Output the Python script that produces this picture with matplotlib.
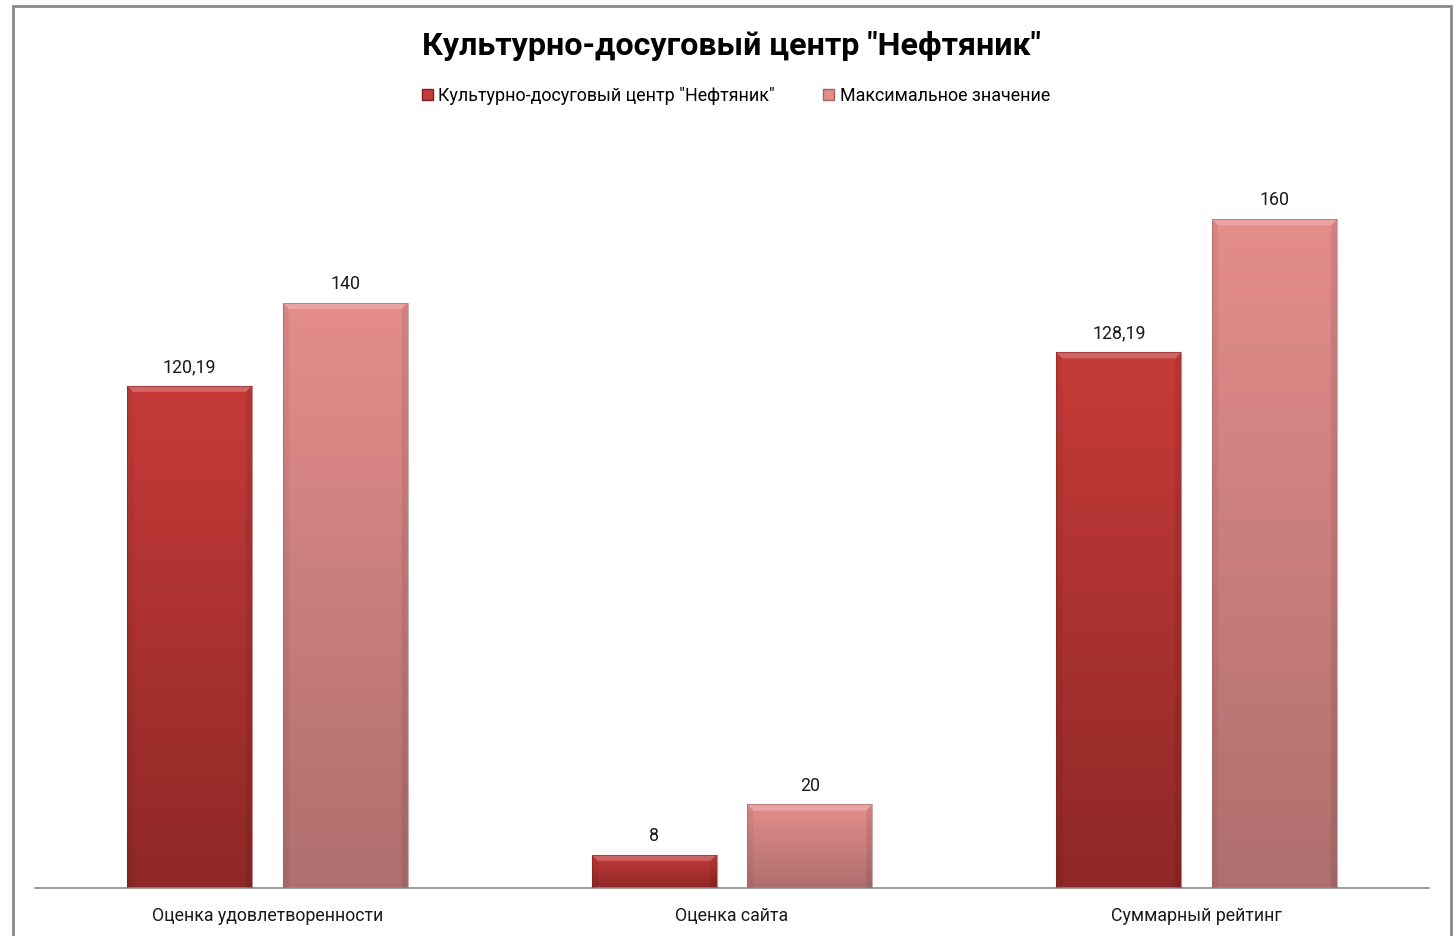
import numpy as np
import matplotlib.pyplot as plt
from matplotlib.patches import Patch, Rectangle, Polygon
from matplotlib.colors import LinearSegmentedColormap

plt.rcParams['font.family'] = ['Roboto', 'DejaVu Sans']

title = 'Культурно-досуговый центр "Нефтяник"'
categories = ['Оценка удовлетворенности', 'Оценка сайта', 'Суммарный рейтинг']
series_names = ['Культурно-досуговый центр "Нефтяник"', 'Максимальное значение']
center_vals = [120.19, 8, 128.19]
max_vals = [140, 20, 160]
value_labels = [['120,19', '8', '128,19'], ['140', '20', '160']]

# top colour, bottom colour for each series
grads = [('#c63b39', '#8e2826'), ('#e48d8b', '#ae6f6e')]
edge_cols = ['#7a2220', '#9a6463']

fig = plt.figure(figsize=(14.56, 9.36), dpi=100)
ax = fig.add_axes([35 / 1456, 48 / 936, (1429 - 35) / 1456, (888 - 135.6) / 936])

x = np.arange(len(categories))
width = 0.269
offs = [-0.1675, 0.1675]

for k, vals in enumerate([center_vals, max_vals]):
    bars = ax.bar(x + offs[k], vals, width, color='none', edgecolor='none', zorder=2)
    cmap = LinearSegmentedColormap.from_list('g%d' % k, [grads[k][1], grads[k][0]])
    for b, lab in zip(bars, value_labels[k]):
        x0, y0 = b.get_x(), b.get_y()
        w, h = b.get_width(), b.get_height()
        grad = np.linspace(0, 1, 256).reshape(-1, 1)
        im = ax.imshow(grad, cmap=cmap, origin='lower', aspect='auto',
                       extent=[x0, x0 + w, y0, y0 + h], zorder=2)
        im.set_clip_path(b)
        # bevel: lighter top strip, darker sides
        bh = min(1.5, h * 0.25)
        bw = 0.013
        ax.add_patch(Polygon([[x0, y0 + h], [x0 + w, y0 + h],
                              [x0 + w - bw, y0 + h - bh], [x0 + bw, y0 + h - bh]],
                             closed=True, facecolor='white', alpha=0.22,
                             edgecolor='none', zorder=3))
        ax.add_patch(Polygon([[x0, y0], [x0, y0 + h], [x0 + bw, y0 + h - bh], [x0 + bw, y0]],
                             closed=True, facecolor='black', alpha=0.05,
                             edgecolor='none', zorder=3))
        ax.add_patch(Polygon([[x0 + w, y0], [x0 + w, y0 + h], [x0 + w - bw, y0 + h - bh],
                              [x0 + w - bw, y0]],
                             closed=True, facecolor='black', alpha=0.08,
                             edgecolor='none', zorder=3))
        ax.add_patch(Rectangle((x0, y0), w, h, facecolor='none',
                               edgecolor=edge_cols[k], linewidth=0.8, alpha=0.5, zorder=4))
        ax.annotate(lab, (x0 + w / 2, y0 + h), xytext=(0, 7), textcoords='offset points',
                    ha='center', va='bottom', fontsize=12.8, color='#1a1a1a')

ax.set_xlim(-0.5, 2.5)
ax.set_ylim(0, 180)
ax.set_xticks(x)
ax.set_xticklabels(categories, fontsize=12.8, color='#1a1a1a')
ax.tick_params(axis='x', length=0, pad=14)
ax.set_yticks([])
for s in ['top', 'right', 'left']:
    ax.spines[s].set_visible(False)
ax.spines['bottom'].set_color('#8c8c8c')
ax.spines['bottom'].set_linewidth(1.2)

fig.text(731 / 1456, 1 - 46 / 936, title, ha='center', va='center',
         fontsize=23.2, fontweight='bold', color='black')

handles = [Patch(facecolor=grads[0][0], edgecolor=edge_cols[0]),
           Patch(facecolor=grads[1][0], edgecolor=edge_cols[1])]
fig.legend(handles, series_names, loc='center', bbox_to_anchor=(736 / 1456, 1 - 96 / 936),
           ncol=2, frameon=False, fontsize=12.9, handlelength=0.6, handleheight=0.6,
           handletextpad=0.3, columnspacing=2.7)

# outer chart border
fig.add_artist(Rectangle((13 / 1456, -0.05), (1451 - 13) / 1456, 1.05 - 6 / 936,
                         transform=fig.transFigure, facecolor='none',
                         edgecolor='#8a8a8a', linewidth=2))

fig.savefig('out.png', dpi=100)
